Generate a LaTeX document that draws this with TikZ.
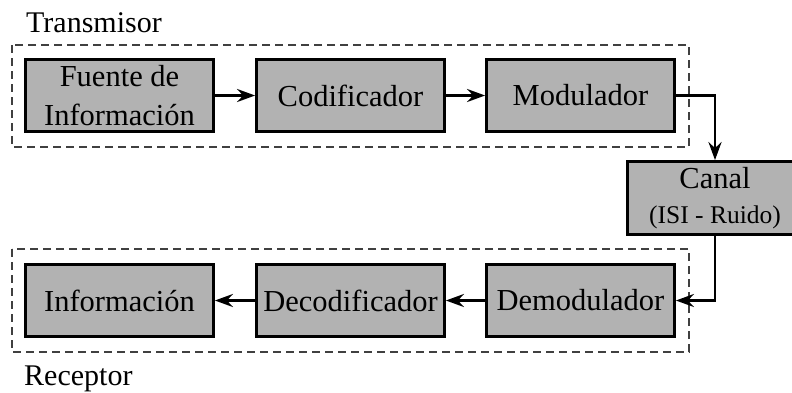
\documentclass[tikz,border=0pt]{standalone}
\usepackage{fontspec}
\setmainfont{Liberation Serif}
\usetikzlibrary{arrows.meta}
\begin{document}
\begin{tikzpicture}[x=1pt,y=-1pt,
  blk/.style={draw=black,line width=2.8pt,fill=black!30,minimum width=188pt,minimum height=72pt,inner sep=0pt,align=center,font=\fontsize{30.5}{39}\selectfont},
  grp/.style={draw=black!75,line width=1.3pt,dash pattern=on 8pt off 5pt},
  conn/.style={line width=2.8pt,-{Stealth[length=18pt,width=13pt,inset=6pt]}},
  lbl/.style={anchor=base west,inner sep=0pt,font=\fontsize{30}{34}\selectfont}]
\useasboundingbox (0,0) rectangle (792,392);
\draw[grp] (12,45) rectangle (689,147);
\draw[grp] (12,249) rectangle (689,352);
\node[lbl] (tx) at (26,32) {Transmisor};
\node[lbl] (rx) at (24,385) {Receptor};
\node[blk] (fue) at (119.5,95.5) {Fuente de\\Información};
\node[blk] (cod) at (350.5,95.5) {Codificador};
\node[blk] (mod) at (580.5,95.5) {Modulador};
\node[blk,minimum width=175pt,minimum height=73pt] (can) at (715,198) {Canal\\[-4pt]{\fontsize{25.5}{30}\selectfont(ISI - Ruido)}};
\node[blk] (dem) at (580.5,300.5) {Demodulador};
\node[blk] (dec) at (350.5,300.5) {Decodificador};
\node[blk] (inf) at (119.5,300.5) {Información};
\draw[conn] (fue) -- (cod);
\draw[conn] (cod) -- (mod);
\draw[conn] (mod.east) -| (can.north);
\draw[conn] (can.south) |- (dem.east);
\draw[conn] (dem) -- (dec);
\draw[conn] (dec) -- (inf);
\end{tikzpicture}
\end{document}
